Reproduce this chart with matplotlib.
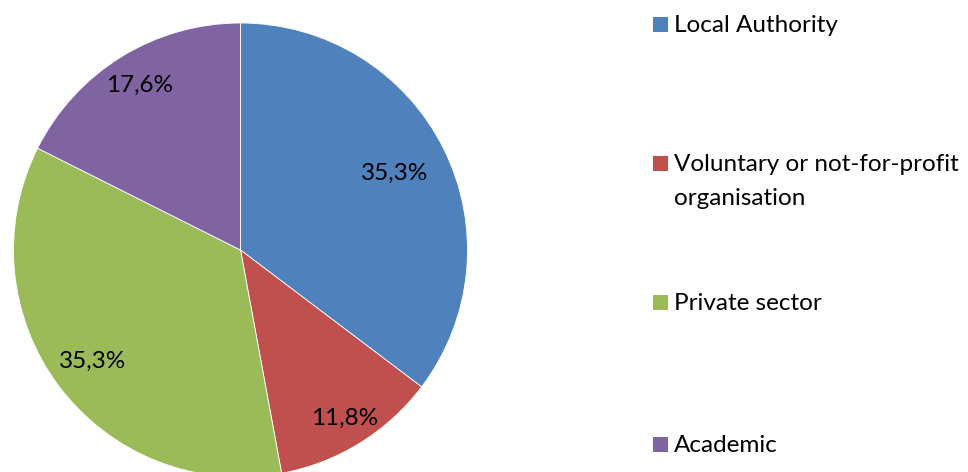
import matplotlib
matplotlib.use("Agg")
import numpy as np
import matplotlib.pyplot as plt
from matplotlib.patches import Rectangle

# data
categories = ["Local Authority", "Voluntary or not-for-profit\norganisation",
              "Private sector", "Academic"]
shares = [35.3, 11.8, 35.3, 17.6]
colors = ["#4F81BD", "#C0504D", "#9BBB59", "#8064A2"]

W, H = 968, 472
plt.rcParams["font.family"] = ["Lato", "DejaVu Sans"]
FS = 17.5

fig = plt.figure(figsize=(W / 100, H / 100), dpi=100)
ax = fig.add_axes([0, 0, 1, 1])

cx, cy, r = 240.5, H - 250, 227
wedges, _, autotexts = ax.pie(
    shares, colors=colors, startangle=90, counterclock=False,
    center=(cx, cy), radius=r, frame=True,
    autopct=lambda p: f"{p:.1f}%".replace(".", ","),
    wedgeprops=dict(edgecolor="white", linewidth=0.6),
    textprops=dict(fontsize=FS, color="black"),
)
ax.set_xlim(0, W)
ax.set_ylim(0, H)
ax.set_aspect("equal")
ax.axis("off")

# label radius per slice, like the original
label_dist = [0.76, 0.87, 0.815, 0.85]
for w, t, d in zip(wedges, autotexts, label_dist):
    ang = np.deg2rad((w.theta1 + w.theta2) / 2)
    t.set_position((cx + d * r * np.cos(ang), cy + d * r * np.sin(ang)))

# legend drawn by hand
leg_y = [24, 163, 302, 444]
for cat, col, y in zip(categories, colors, leg_y):
    ax.add_patch(Rectangle((653, H - y - 7.5), 15, 15, facecolor=col, edgecolor="none"))
    for i, line in enumerate(cat.split("\n")):
        ax.text(674, H - y - 8 - i * 34, line, fontsize=FS, va="baseline", ha="left")

fig.savefig("out.png", dpi=100)
